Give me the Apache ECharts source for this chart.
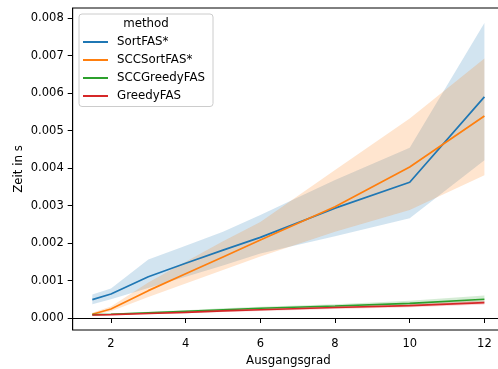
<!DOCTYPE html>
<html>
<head>
<meta charset="utf-8">
<script src="https://cdn.jsdelivr.net/npm/echarts@6/dist/echarts.min.js"></script>
<style>
  html, body { margin: 0; padding: 0; background: #fff; }
  #chart { width: 498px; height: 369px; }
</style>
</head>
<body>
<div id="chart"></div>
<script>
var degree = [1.5, 2, 3, 4, 5, 6, 8, 10, 12];

var methods = ['SortFAS*', 'SCCSortFAS*', 'SCCGreedyFAS', 'GreedyFAS'];
var colors = ['#1f77b4', '#ff7f0e', '#2ca02c', '#d62728'];

var sortMean = [0.00049, 0.00064, 0.00110, 0.00146, 0.00181, 0.00215, 0.00293, 0.00362, 0.00590];
var sortLow  = [0.00037, 0.00050, 0.00080, 0.00110, 0.00140, 0.00172, 0.00218, 0.00266, 0.00421];
var sortHigh = [0.00063, 0.00079, 0.00156, 0.00193, 0.00230, 0.00275, 0.00368, 0.00454, 0.00787];

var sccSortMean = [0.00010, 0.00024, 0.00073, 0.00118, 0.00163, 0.00208, 0.00297, 0.00403, 0.00539];
var sccSortLow  = [0.00007, 0.00018, 0.00056, 0.00092, 0.00128, 0.00164, 0.00230, 0.00288, 0.00381];
var sccSortHigh = [0.00014, 0.00031, 0.00095, 0.00150, 0.00205, 0.00256, 0.00395, 0.00532, 0.00692];

var sccGreedyMean = [0.00009, 0.00010, 0.00014, 0.00018, 0.00022, 0.00026, 0.00032, 0.00039, 0.00050];
var sccGreedyLow  = [0.00007, 0.00008, 0.00012, 0.00015, 0.00018, 0.00022, 0.00027, 0.00033, 0.00043];
var sccGreedyHigh = [0.00011, 0.00012, 0.00017, 0.00021, 0.00026, 0.00030, 0.00037, 0.00046, 0.00060];

var greedyMean = [0.00008, 0.00009, 0.00012, 0.00015, 0.00019, 0.00022, 0.00028, 0.00033, 0.00041];
var greedyLow  = [0.00007, 0.00008, 0.00010, 0.00013, 0.00016, 0.00019, 0.00024, 0.00029, 0.00036];
var greedyHigh = [0.00009, 0.00011, 0.00014, 0.00017, 0.00022, 0.00025, 0.00032, 0.00038, 0.00047];

var xTicks = [2, 4, 6, 8, 10, 12];
var yTicks = [0, 0.001, 0.002, 0.003, 0.004, 0.005, 0.006, 0.007, 0.008];

var means = [sortMean, sccSortMean, sccGreedyMean, greedyMean];
var lows = [sortLow, sccSortLow, sccGreedyLow, greedyLow];
var highs = [sortHigh, sccSortHigh, sccGreedyHigh, greedyHigh];

function pairs(ys) {
    return degree.map(function (x, i) { return [x, ys[i]]; });
}

var series = [];
// confidence bands, one polygon per method
methods.forEach(function (name, k) {
    series.push({
        name: name + ' ci', type: 'custom', silent: true, z: 1,
        data: degree.map(function (x, i) { return [x, lows[k][i], highs[k][i]]; }),
        renderItem: function (params, api) {
            if (params.dataIndex !== 0) return;
            var upper = degree.map(function (x, i) { return api.coord([x, highs[k][i]]); });
            var lower = degree.map(function (x, i) { return api.coord([x, lows[k][i]]); }).reverse();
            return {
                type: 'polygon',
                shape: { points: upper.concat(lower) },
                style: { fill: colors[k], opacity: 0.2 }
            };
        },
        encode: { x: 0, y: [1, 2] }
    });
});
methods.forEach(function (name, k) {
    series.push({
        name: name, type: 'line', symbol: 'none', z: 3,
        lineStyle: { color: colors[k], width: 1.7 },
        itemStyle: { color: colors[k] },
        data: pairs(means[k])
    });
});

var font = 'DejaVu Sans';
var chart = echarts.init(document.getElementById('chart'));
chart.setOption({
    animation: false,
    textStyle: { fontFamily: font },
    grid: {
        left: 72.7, top: 8, right: -6, bottom: 39,
        outerBoundsMode: 'none', containLabel: false,
        show: true, borderColor: '#000', borderWidth: 1
    },
    legend: {
        data: methods, orient: 'vertical', left: 83, top: 33, z: 10,
        padding: 0, itemGap: 0, itemWidth: 25, itemHeight: 2, icon: 'rect',
        textStyle: { fontFamily: font, fontSize: 11.8, color: '#000', lineHeight: 18, padding: [0, 0, 0, 4] }
    },
    graphic: [
        {
            type: 'rect', x: 79, y: 14, z: 1,
            shape: { width: 134, height: 92.5, r: 3 },
            style: { fill: 'rgba(255,255,255,0.8)', stroke: '#cccccc', lineWidth: 1 }
        },
        {
            type: 'text', x: 146, y: 24, z: 2,
            style: { text: 'method', fill: '#000', font: '11.8px "DejaVu Sans"', align: 'center', verticalAlign: 'middle' }
        }
    ],
    xAxis: {
        type: 'value', min: 0.975, max: 12.525,
        name: 'Ausgangsgrad', nameLocation: 'middle', nameGap: 24,
        nameTextStyle: { fontFamily: font, fontSize: 11.8, color: '#000' },
        axisLine: { show: true, lineStyle: { color: '#000', width: 1 } },
        axisTick: { show: true, length: 5, customValues: xTicks, lineStyle: { color: '#000' } },
        axisLabel: { customValues: xTicks, margin: 8, fontFamily: font, fontSize: 11.5, color: '#000' },
        splitLine: { show: false }
    },
    yAxis: {
        type: 'value', min: -0.00032, max: 0.00827,
        name: 'Zeit in s', nameLocation: 'middle', nameGap: 48, nameMoveOverlap: false,
        nameTextStyle: { fontFamily: font, fontSize: 11.8, color: '#000' },
        axisLine: { show: true, lineStyle: { color: '#000', width: 1 } },
        axisTick: { show: true, length: 5, customValues: yTicks, lineStyle: { color: '#000' } },
        axisLabel: {
            customValues: yTicks, margin: 9, fontFamily: font, fontSize: 11.5, color: '#000',
            formatter: function (v) { return v.toFixed(3); }
        },
        splitLine: { show: false }
    },
    series: series
});
</script>
</body>
</html>
